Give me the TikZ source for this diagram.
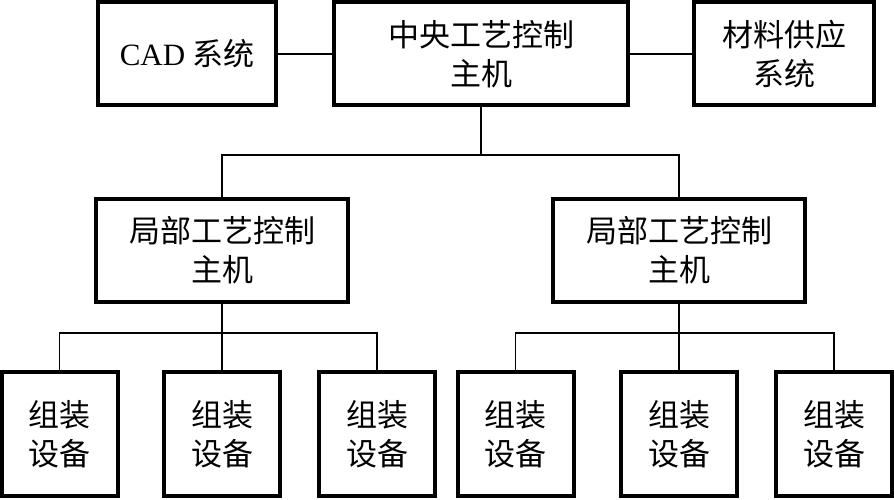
\documentclass[tikz,border=0pt]{standalone}
\usepackage{fontspec}
\setmainfont{Liberation Serif}
\newfontfamily\cjk{Noto Sans CJK SC}
\usepackage{tikz}
\usetikzlibrary{positioning}

\begin{document}
\begin{tikzpicture}[
  x=1pt, y=-1pt,
  box/.style={draw, rectangle, line width=4pt, align=center,
              font=\cjk\fontsize{31}{39}\selectfont, inner sep=0pt},
  topbox/.style={box, minimum height=103pt},
  midbox/.style={box, minimum width=252pt, minimum height=103pt},
  devbox/.style={box, minimum width=116pt, minimum height=124pt},
  link/.style={line width=1.4pt}
]
\useasboundingbox (0,0) rectangle (894,500);

%% Row 1: central host and the two systems beside it
\node[topbox, minimum width=294pt] (cen) at (481,54)
  {中央工艺控制\\主机};
\node[topbox, minimum width=178pt] (cad) at (187,54)
  {{\rmfamily CAD} 系统};
\node[topbox, minimum width=180pt] (mat) at (784,54)
  {材料供应\\系统};

%% Row 2: local process control hosts
\node[midbox] (locA) at (222,250) {局部工艺控制\\主机};
\node[midbox] (locB) at (679,250) {局部工艺控制\\主机};

%% Row 3: assembly equipment
\node[devbox] (devA1) at (59.5,434) {组装\\设备};
\node[devbox] (devA2) at (222,434)  {组装\\设备};
\node[devbox] (devA3) at (377,434)  {组装\\设备};
\node[devbox] (devB1) at (515.5,434) {组装\\设备};
\node[devbox] (devB2) at (679,434)  {组装\\设备};
\node[devbox] (devB3) at (834,434)  {组装\\设备};

%% Links in row 1
\draw[link] (cad) -- (cen);
\draw[link] (cen) -- (mat);

%% Central host to local hosts
\coordinate (busTop) at (481,155);
\draw[link] (cen.south) -- (busTop);
\draw[link] (busTop) -| (locA.north);
\draw[link] (busTop) -| (locB.north);

%% Local hosts to equipment
\draw[link] (locA.south) -- (devA2.north);
\draw[link] (devA1.north) |- (locA.south |- 0,333) -| (devA3.north);
\draw[link] (locB.south) -- (devB2.north);
\draw[link] (devB1.north) |- (locB.south |- 0,333) -| (devB3.north);

\end{tikzpicture}
\end{document}
